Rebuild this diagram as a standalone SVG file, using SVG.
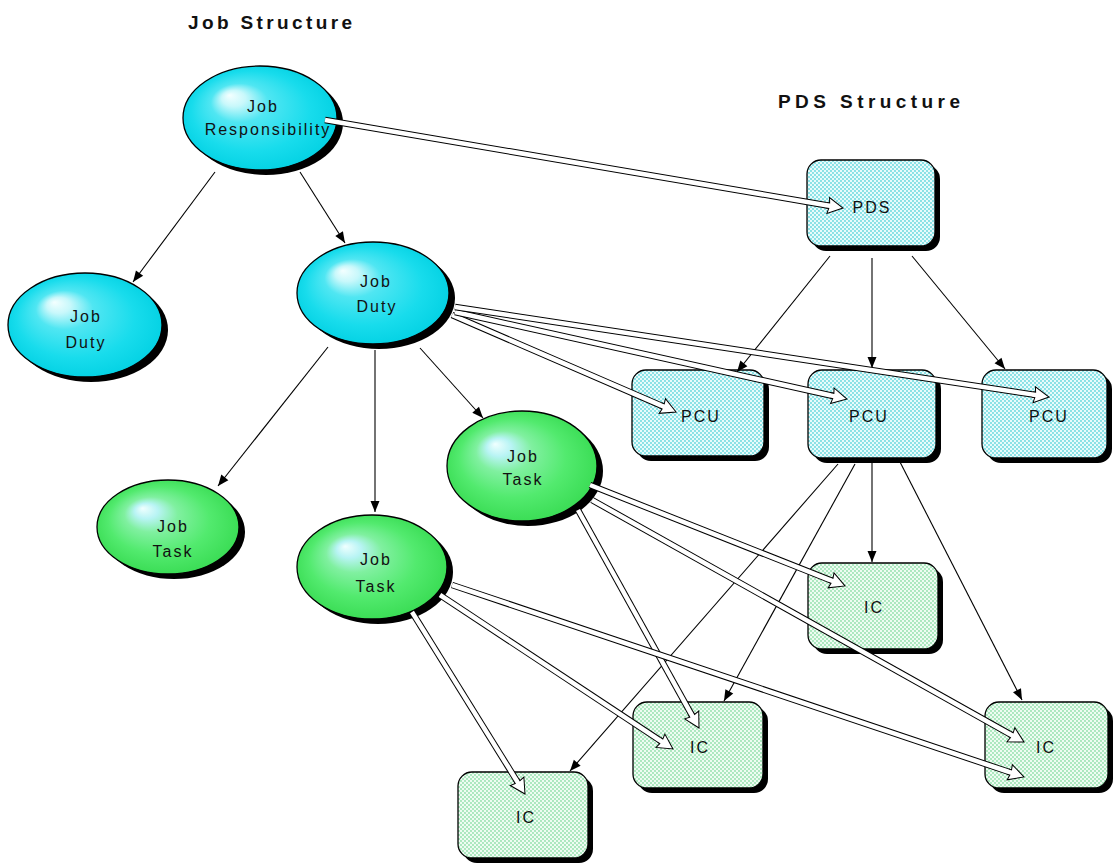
<svg xmlns="http://www.w3.org/2000/svg" width="1113" height="867" viewBox="0 0 1113 867">
  <defs>
    <style>
      .title { font-family: "Liberation Sans", Arial, sans-serif; font-size: 19px; font-weight: bold; fill: #111; }
      .lbl { font-family: "Liberation Sans", Arial, sans-serif; font-size: 16px; letter-spacing: 2px; fill: #111; text-anchor: middle; }
      .shadow { fill: #000; }
      .edge { stroke: #000; stroke-width: 1.3; }
      .blue { fill: url(#gBlue); }
      .green { fill: url(#gGreen); }
      .pds { fill: url(#dotsCyan); }
      .ic { fill: url(#dotsGreen); }
      .thin { fill: none; stroke: #000; stroke-width: 1.1; marker-end: url(#solidHead); }
      .ho { fill: none; stroke: #000; stroke-width: 6.5; }
      .hi { fill: none; stroke: #fff; stroke-width: 4.5; marker-end: url(#hollowHead); }
    </style>
    <radialGradient id="gBlue" cx="0.5" cy="0.5" r="0.55" fx="0.3" fy="0.28">
      <stop offset="0" stop-color="#f4ffff"/>
      <stop offset="0.14" stop-color="#c8f8fb"/>
      <stop offset="0.34" stop-color="#50e6f2"/>
      <stop offset="0.7" stop-color="#18dcec"/>
      <stop offset="1" stop-color="#00d0e2"/>
    </radialGradient>
    <radialGradient id="gGreen" cx="0.5" cy="0.5" r="0.55" fx="0.32" fy="0.3">
      <stop offset="0" stop-color="#f0ffff"/>
      <stop offset="0.15" stop-color="#b8f4f4"/>
      <stop offset="0.34" stop-color="#80f0a0"/>
      <stop offset="0.65" stop-color="#52ea6e"/>
      <stop offset="1" stop-color="#36da50"/>
    </radialGradient>
    <pattern id="dotsCyan" width="4" height="4" patternUnits="userSpaceOnUse">
      <rect width="4" height="4" fill="#e8fbfb"/>
      <circle cx="1" cy="1" r="0.9" fill="#5fd6dc"/>
      <circle cx="3" cy="3" r="0.9" fill="#5fd6dc"/>
    </pattern>
    <pattern id="dotsGreen" width="4" height="4" patternUnits="userSpaceOnUse">
      <rect width="4" height="4" fill="#eefcf2"/>
      <circle cx="1" cy="1" r="0.9" fill="#8ddfa8"/>
      <circle cx="3" cy="3" r="0.9" fill="#8ddfa8"/>
    </pattern>
    <marker id="solidHead" markerUnits="userSpaceOnUse" orient="auto" refX="0" refY="0" markerWidth="14" markerHeight="12" overflow="visible">
      <path d="M0,0 L-11,-4.5 L-11,4.5 Z" fill="#000"/>
    </marker>
    <marker id="hollowHead" markerUnits="userSpaceOnUse" orient="auto" refX="0" refY="0" markerWidth="20" markerHeight="20" overflow="visible">
      <polygon points="-3,-2.75 0,-2.75 -1,-8 14,0 -1,8 0,2.75 -3,2.75" fill="#fff"/>
      <path d="M-3,-2.75 L0,-2.75 L-1,-8 L14,0 L-1,8 L0,2.75 L-3,2.75" fill="none" stroke="#000" stroke-width="1"/>
    </marker>
  </defs>

  <rect width="1113" height="867" fill="#fff"/>

  <text class="title" x="188" y="29" textLength="164" lengthAdjust="spacing">Job Structure</text>
  <text class="title" x="778" y="108" textLength="182" lengthAdjust="spacing">PDS Structure</text>

  <!-- job structure ellipses -->
  <g id="job-responsibility">
    <ellipse class="shadow" cx="266" cy="123" rx="77" ry="52"/>
    <ellipse class="blue edge" cx="260" cy="118" rx="77" ry="52"/>
    <text class="lbl" x="263" y="112">Job</text>
    <text class="lbl" x="268" y="135">Responsibility</text>
  </g>
  <g id="job-duty-1">
    <ellipse class="shadow" cx="91" cy="330" rx="77" ry="52"/>
    <ellipse class="blue edge" cx="85" cy="325" rx="77" ry="52"/>
    <text class="lbl" x="86" y="322">Job</text>
    <text class="lbl" x="86" y="348">Duty</text>
  </g>
  <g id="job-duty-2">
    <ellipse class="shadow" cx="379" cy="298" rx="76" ry="51"/>
    <ellipse class="blue edge" cx="373" cy="293" rx="76" ry="51"/>
    <text class="lbl" x="376" y="287">Job</text>
    <text class="lbl" x="377" y="312">Duty</text>
  </g>
  <g id="job-task-1">
    <ellipse class="shadow" cx="174" cy="532" rx="71" ry="47"/>
    <ellipse class="green edge" cx="168" cy="527" rx="71" ry="47"/>
    <text class="lbl" x="173" y="532">Job</text>
    <text class="lbl" x="173" y="557">Task</text>
  </g>
  <g id="job-task-2">
    <ellipse class="shadow" cx="378" cy="572" rx="75" ry="52"/>
    <ellipse class="green edge" cx="372" cy="567" rx="75" ry="52"/>
    <text class="lbl" x="376" y="565">Job</text>
    <text class="lbl" x="376" y="592">Task</text>
  </g>
  <g id="job-task-3">
    <ellipse class="shadow" cx="528" cy="471" rx="75" ry="55"/>
    <ellipse class="green edge" cx="522" cy="466" rx="75" ry="55"/>
    <text class="lbl" x="523" y="462">Job</text>
    <text class="lbl" x="523" y="485">Task</text>
  </g>

  <!-- PDS structure boxes -->
  <g id="pds">
    <rect class="shadow" x="812" y="165" width="128" height="86" rx="14"/>
    <rect class="pds edge" x="807" y="160" width="128" height="86" rx="14"/>
    <text class="lbl" x="872" y="213">PDS</text>
  </g>
  <g id="pcu-1">
    <rect class="shadow" x="637" y="375" width="132" height="86" rx="14"/>
    <rect class="pds edge" x="632" y="370" width="132" height="86" rx="14"/>
    <text class="lbl" x="701" y="422">PCU</text>
  </g>
  <g id="pcu-2">
    <rect class="shadow" x="813" y="375" width="128" height="88" rx="14"/>
    <rect class="pds edge" x="808" y="370" width="128" height="88" rx="14"/>
    <text class="lbl" x="869" y="422">PCU</text>
  </g>
  <g id="pcu-3">
    <rect class="shadow" x="987" y="375" width="125" height="88" rx="14"/>
    <rect class="pds edge" x="982" y="370" width="125" height="88" rx="14"/>
    <text class="lbl" x="1049" y="422">PCU</text>
  </g>
  <g id="ic-1">
    <rect class="shadow" x="813" y="568" width="130" height="86" rx="14"/>
    <rect class="ic edge" x="808" y="563" width="130" height="86" rx="14"/>
    <text class="lbl" x="874" y="613">IC</text>
  </g>
  <g id="ic-2">
    <rect class="shadow" x="638" y="707" width="130" height="86" rx="14"/>
    <rect class="ic edge" x="633" y="702" width="130" height="86" rx="14"/>
    <text class="lbl" x="700" y="753">IC</text>
  </g>
  <g id="ic-3">
    <rect class="shadow" x="990" y="707" width="123" height="86" rx="14"/>
    <rect class="ic edge" x="985" y="702" width="123" height="86" rx="14"/>
    <text class="lbl" x="1046" y="753">IC</text>
  </g>
  <g id="ic-4">
    <rect class="shadow" x="463" y="777" width="130" height="86" rx="14"/>
    <rect class="ic edge" x="458" y="772" width="130" height="86" rx="14"/>
    <text class="lbl" x="526" y="823">IC</text>
  </g>

  <!-- connectors: hierarchy (solid heads) and mappings (hollow double arrows) -->
  <g id="connectors">
    <path class="thin" d="M215,172 L133,282"/>
    <path class="thin" d="M300,172 L345,243"/>
    <path class="thin" d="M328,347 L218,486"/>
    <path class="thin" d="M375,350 L375,512"/>
    <path class="thin" d="M420,348 L483,418"/>
    <path class="thin" d="M830,256 L737,372"/>
    <path class="thin" d="M872,258 L872,368"/>
    <path class="thin" d="M912,256 L1005,369"/>
    <path class="thin" d="M872,462 L872,562"/>
    <path class="thin" d="M838,464 L570,771"/>
    <path class="thin" d="M855,464 L724,701"/>
    <path class="thin" d="M900,462 L1022,700"/>

    <path class="ho" d="M325,120 L829.2,205.7"/><path class="hi" d="M325,120 L829.2,205.7"/>
    <path class="ho" d="M452,315 L663.2,406.4"/><path class="hi" d="M452,315 L663.2,406.4"/>
    <path class="ho" d="M455,312 L833.3,396"/><path class="hi" d="M455,312 L833.3,396"/>
    <path class="ho" d="M455,307 L1035.2,394.9"/><path class="hi" d="M455,307 L1035.2,394.9"/>
    <path class="ho" d="M590,485 L832,580.8"/><path class="hi" d="M590,485 L832,580.8"/>
    <path class="ho" d="M578,510 L692.2,715.8"/><path class="hi" d="M578,510 L692.2,715.8"/>
    <path class="ho" d="M592,500 L1011.8,735.2"/><path class="hi" d="M592,500 L1011.8,735.2"/>
    <path class="ho" d="M440,595 L661.3,741.3"/><path class="hi" d="M440,595 L661.3,741.3"/>
    <path class="ho" d="M412,612 L517.6,782.1"/><path class="hi" d="M412,612 L517.6,782.1"/>
    <path class="ho" d="M452,585 L1010.7,772.5"/><path class="hi" d="M452,585 L1010.7,772.5"/>
  </g>
</svg>
